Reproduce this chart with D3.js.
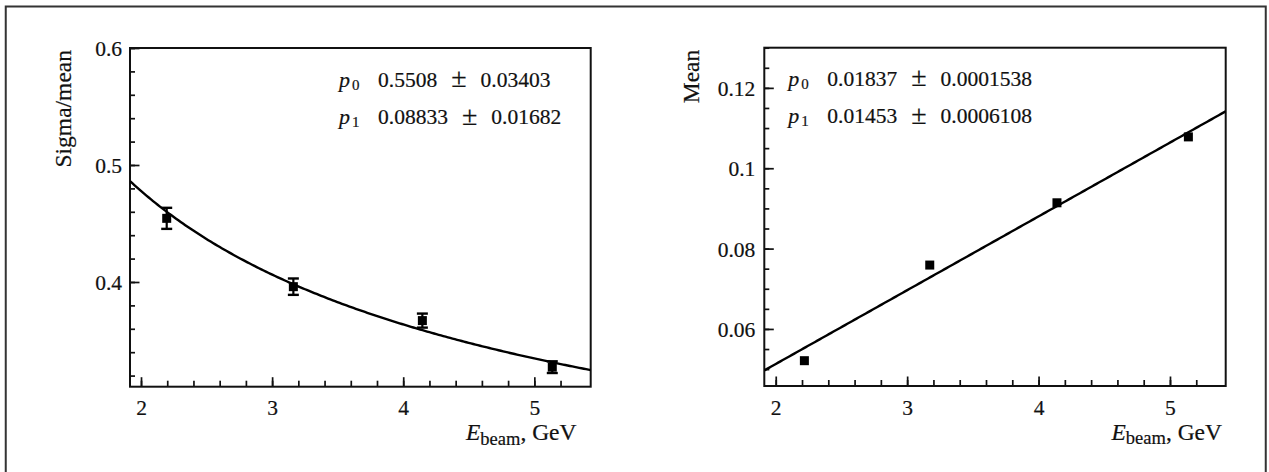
<!DOCTYPE html>
<html>
<head>
<meta charset="utf-8">
<script src="https://cdn.jsdelivr.net/npm/d3@7.9.0/dist/d3.min.js"></script>
<style>
  body { margin: 0; background: #fff; }
  svg { display: block; }
  text { stroke: #111; stroke-width: 0.2px; }
</style>
</head>
<body>
<svg id="chart" width="1269" height="472"></svg>
<script>
const energyLeft = [2.196, 3.162, 4.146, 5.137];
const sigmaOverMean = [0.4544, 0.396, 0.367, 0.3272];
const sigmaOverMeanErr = [0.009, 0.007, 0.006, 0.005];

const energyRight = [2.218, 3.172, 4.14, 5.14];
const meanValues = [0.0521, 0.0759, 0.0914, 0.1078];

// fit parameters as printed in the stat boxes
const fitLeftPar = ['0.5508', '0.08833'];
const fitLeftErr = ['0.03403', '0.01682'];
const fitRightPar = ['0.01837', '0.01453'];
const fitRightErr = ['0.0001538', '0.0006108'];

const xTicks = [2, 3, 4, 5];
const yTicksLeft = [0.4, 0.5, 0.6];
const yTicksRight = [0.06, 0.08, 0.1, 0.12];

const FONT = "'Liberation Serif', 'Times New Roman', serif";

const svg = d3.select('#chart').attr('font-family', FONT);

// outer frame around the whole figure
svg.append('rect')
  .attr('x', 5.75).attr('y', 6.5)
  .attr('width', 1260).attr('height', 500)
  .attr('fill', 'none').attr('stroke', '#333').attr('stroke-width', 2);

function panel(opts) {
  const x = d3.scaleLinear().domain(opts.xDomain).range([opts.left, opts.right]);
  const y = d3.scaleLinear().domain(opts.yDomain).range([opts.bottom, opts.top]);
  const g = svg.append('g');

  const clipId = 'clip' + opts.id;
  g.append('clipPath').attr('id', clipId)
    .append('rect')
    .attr('x', opts.left).attr('y', opts.top)
    .attr('width', opts.right - opts.left).attr('height', opts.bottom - opts.top);

  // minor ticks
  const xMinor = d3.range(1.8, opts.xDomain[1], 0.2)
    .filter(v => v > opts.xDomain[0] + 0.02 && v < opts.xDomain[1] - 0.05);
  g.append('g')
    .attr('transform', `translate(0,${opts.bottom})`)
    .call(d3.axisBottom(x).tickValues(xMinor).tickSize(-6).tickFormat(''))
    .call(a => a.select('.domain').remove());
  const yMinor = d3.range(opts.yMinorStart, opts.yDomain[1] + 1e-9, opts.yMinorStep)
    .filter(v => v > opts.yDomain[0] + 1e-9);
  g.append('g')
    .attr('transform', `translate(${opts.left},0)`)
    .call(d3.axisLeft(y).tickValues(yMinor).tickSize(-5).tickFormat(''))
    .call(a => a.select('.domain').remove());

  // major ticks + labels
  const xAxis = g.append('g')
    .attr('transform', `translate(0,${opts.bottom})`)
    .call(d3.axisBottom(x).tickValues(xTicks).tickSize(-9.5).tickPadding(13.5).tickFormat(d3.format('d')));
  const yAxis = g.append('g')
    .attr('transform', `translate(${opts.left},0)`)
    .call(d3.axisLeft(y).tickValues(opts.yTicks).tickSize(-9.5).tickPadding(opts.yPad)
      .tickFormat(v => String(+v.toFixed(3))));
  [xAxis, yAxis].forEach(a => {
    a.select('.domain').remove();
    a.attr('font-family', FONT).attr('font-size', null);
    a.selectAll('text').attr('font-family', FONT).attr('font-size', 21.5).attr('fill', '#111');
  });
  yAxis.selectAll('text').attr('dy', '0.36em');
  g.selectAll('.tick line').attr('stroke', '#111').attr('stroke-width', 1.7);

  // plot frame
  g.append('rect')
    .attr('x', opts.left).attr('y', opts.top)
    .attr('width', opts.right - opts.left).attr('height', opts.bottom - opts.top)
    .attr('fill', 'none').attr('stroke', '#111').attr('stroke-width', 2);

  // fit curve
  const samples = d3.range(0, 201).map(i => opts.xDomain[0] + (opts.xDomain[1] - opts.xDomain[0]) * i / 200);
  g.append('path')
    .attr('clip-path', `url(#${clipId})`)
    .attr('d', d3.line().x(e => x(e)).y(e => y(opts.fit(e)))(samples))
    .attr('fill', 'none').attr('stroke', '#000').attr('stroke-width', 2.4);

  // error bars
  if (opts.err) {
    opts.xs.forEach((e, i) => {
      const cx = x(e), y0 = y(opts.ys[i] - opts.err[i]), y1 = y(opts.ys[i] + opts.err[i]);
      g.append('line').attr('x1', cx).attr('x2', cx).attr('y1', y0).attr('y2', y1)
        .attr('stroke', '#000').attr('stroke-width', 2.2);
      [y0, y1].forEach(yy => g.append('line')
        .attr('x1', cx - 5.5).attr('x2', cx + 5.5).attr('y1', yy).attr('y2', yy)
        .attr('stroke', '#000').attr('stroke-width', 2.4));
    });
  }

  // markers
  g.selectAll('rect.pt')
    .data(opts.xs.map((e, i) => [e, opts.ys[i]]))
    .join('rect')
    .attr('class', 'pt')
    .attr('x', d => x(d[0]) - 4.5).attr('y', d => y(d[1]) - 4.5)
    .attr('width', 9).attr('height', 9).attr('fill', '#000');

  // axis titles
  const xt = g.append('text')
    .attr('x', opts.xTitleEnd).attr('y', opts.bottom + 53.5)
    .attr('text-anchor', 'end').attr('font-size', 23.5).attr('fill', '#111');
  xt.append('tspan').attr('font-style', 'italic').text('E');
  xt.append('tspan').attr('font-size', 18.5).attr('dy', 4.5).text('beam');
  xt.append('tspan').attr('dy', -4.5).text(', GeV');

  g.append('text')
    .attr('transform', `translate(${opts.yTitleX},${opts.top + 2}) rotate(-90)`)
    .attr('text-anchor', 'end').attr('font-size', 23.5).attr('fill', '#111')
    .text(opts.yTitle);

  // stat box text
  opts.pars.forEach((p, i) => {
    const by = opts.statY + i * 37.5;
    const t = g.append('text').attr('x', opts.statX).attr('y', by)
      .attr('font-size', 22).attr('fill', '#111');
    t.append('tspan').attr('font-style', 'italic').text('p');
    t.append('tspan').attr('font-size', 15).attr('dx', 2).attr('dy', 3).text(String(i));
    const v = g.append('text').attr('x', opts.statX + 39).attr('y', by)
      .attr('font-size', 21.5).attr('fill', '#111');
    v.append('tspan').text(p);
    v.append('tspan').attr('dx', 14).attr('font-size', 28).attr('dy', 0.5).text('±');
    v.append('tspan').attr('dx', 14).attr('dy', -0.5).text(opts.errs[i]);
  });
}

panel({
  id: 'L',
  left: 130, right: 590.7, top: 48, bottom: 386.7,
  xDomain: [1.916, 5.43], yDomain: [0.3105, 0.6],
  yTicks: yTicksLeft, yMinorStart: 0.3, yMinorStep: 0.02, yPad: 8,
  xs: energyLeft, ys: sigmaOverMean, err: sigmaOverMeanErr,
  fit: e => +fitLeftPar[0] / Math.sqrt(e) + +fitLeftPar[1],
  pars: fitLeftPar, errs: fitLeftErr, statX: 339, statY: 86.5,
  yTitle: 'Sigma/mean', yTitleX: 70.5, xTitleEnd: 576.5
});

panel({
  id: 'R',
  left: 764.3, right: 1225.7, top: 47.7, bottom: 386,
  xDomain: [1.913, 5.424], yDomain: [0.0458, 0.13],
  yTicks: yTicksRight, yMinorStart: 0.045, yMinorStep: 0.005, yPad: 9,
  xs: energyRight, ys: meanValues, err: null,
  fit: e => +fitRightPar[0] * e + +fitRightPar[1],
  pars: fitRightPar, errs: fitRightErr, statX: 788.3, statY: 85.5,
  yTitle: 'Mean', yTitleX: 698.5, xTitleEnd: 1222
});
</script>
</body>
</html>
